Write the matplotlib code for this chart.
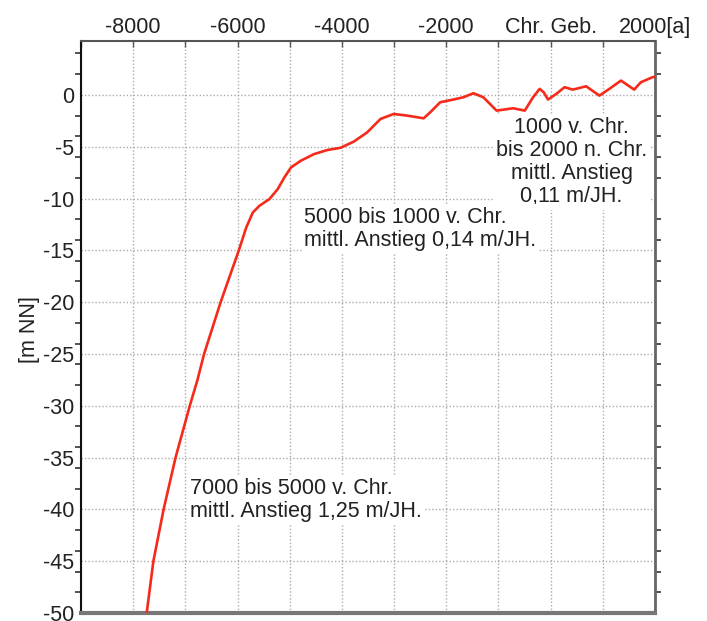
import matplotlib
matplotlib.use("Agg")
import matplotlib.pyplot as plt
from matplotlib.ticker import MultipleLocator, FixedLocator
import numpy as np

# sea level curve
years = [-7741, -7613, -7417, -7188, -6915, -6768, -6641, -6324, -5975, -5834,
         -5707, -5580, -5390, -5230, -5103, -4976, -4786, -4532, -4277, -4023,
         -3769, -3514, -3260, -3006, -2751, -2434, -2307, -2116, -1863, -1672,
         -1481, -1290, -1035, -718, -496, -337, -210, -133, -51, 109, 267, 425,
         681, 934, 1125, 1348, 1601, 1729, 1950, 2000]
level = [-50.0, -45.0, -40.0, -35.0, -30.0, -27.5, -25.0, -20.0, -15.0, -12.8,
         -11.35, -10.7, -10.06, -9.09, -7.97, -7.0, -6.35, -5.71, -5.32, -5.1,
         -4.5, -3.61, -2.32, -1.84, -2.0, -2.26, -1.68, -0.71, -0.45, -0.23,
         0.16, -0.23, -1.52, -1.29, -1.52, -0.23, 0.58, 0.25, -0.45, 0.1, 0.74, 0.51,
         0.83, -0.07, 0.58, 1.38, 0.51, 1.22, 1.7, 1.75]

x_ticks = [-8000, -6000, -4000, -2000, 0, 2000]
x_labels = ["-8000", "-6000", "-4000", "-2000", "Chr. Geb.", "2000[a]"]
y_ticks = list(range(-50, 1, 5))

notes = [
    ("1000 v. Chr.\nbis 2000 n. Chr.\nmittl. Anstieg\n0,11 m/JH.", 400, -6.5, "center"),
    ("5000 bis 1000 v. Chr.\nmittl. Anstieg 0,14 m/JH.", -4720, -12.9, "left"),
    ("7000 bis 5000 v. Chr.\nmittl. Anstieg 1,25 m/JH.", -6920, -39.1, "left"),
]

plt.rcParams["font.family"] = ["Liberation Sans", "DejaVu Sans"]
plt.rcParams["font.size"] = 15.5
txt = "#222222"

fig = plt.figure(figsize=(7.07, 6.21), dpi=100)
ax = fig.add_axes([81/707, 1-613/621, (655-81)/707, (613-41)/621])

ax.plot(years, level, color="#f52a1a", lw=1.9, solid_joinstyle="round",
        solid_capstyle="round", zorder=3)

ax.set_xlim(-9000, 2000)
ax.set_ylim(-50, 5.2)

ax.xaxis.set_ticks_position("top")
ax.xaxis.set_label_position("top")
ax.set_xticks(x_ticks)
ax.set_xticklabels(x_labels, color=txt)
ax.xaxis.set_minor_locator(MultipleLocator(1000))
ax.tick_params(axis="x", which="both", direction="in", length=4, width=1,
               color="#555555", pad=2, bottom=False)

ax.set_yticks(y_ticks)
ax.set_yticklabels([str(v) for v in y_ticks], color=txt)
ax.yaxis.set_minor_locator(FixedLocator(list(range(-50, 5, 2))))
ax.tick_params(axis="y", which="major", length=0, pad=5)
ax.tick_params(axis="y", which="minor", direction="out", length=4, width=1.2,
               left=True, right=True, color="#333333")

ax.grid(True, which="major", axis="y", ls=(0, (1, 1.5)), color="#aaaaaa", lw=1)
ax.grid(True, which="both", axis="x", ls=(0, (1, 1.5)), color="#aaaaaa", lw=1)

ax.spines["left"].set_color("#111111")
ax.spines["left"].set_linewidth(1.5)
ax.spines["top"].set_color("#555555")
ax.spines["top"].set_linewidth(1.5)
ax.spines["right"].set_color("#666666")
ax.spines["right"].set_linewidth(2)
ax.spines["bottom"].set_color("#777777")
ax.spines["bottom"].set_linewidth(3)

ax.set_ylabel("[m NN]", color=txt)
ax.yaxis.set_label_coords(-0.071, 0.495)

for s, x, y, ha in notes:
    ax.text(x, y, s, ha=ha, va="center", multialignment=ha, color=txt,
            linespacing=1.12, zorder=4,
            bbox=dict(facecolor="white", edgecolor="none", pad=2))

fig.savefig("out.png", dpi=100)
